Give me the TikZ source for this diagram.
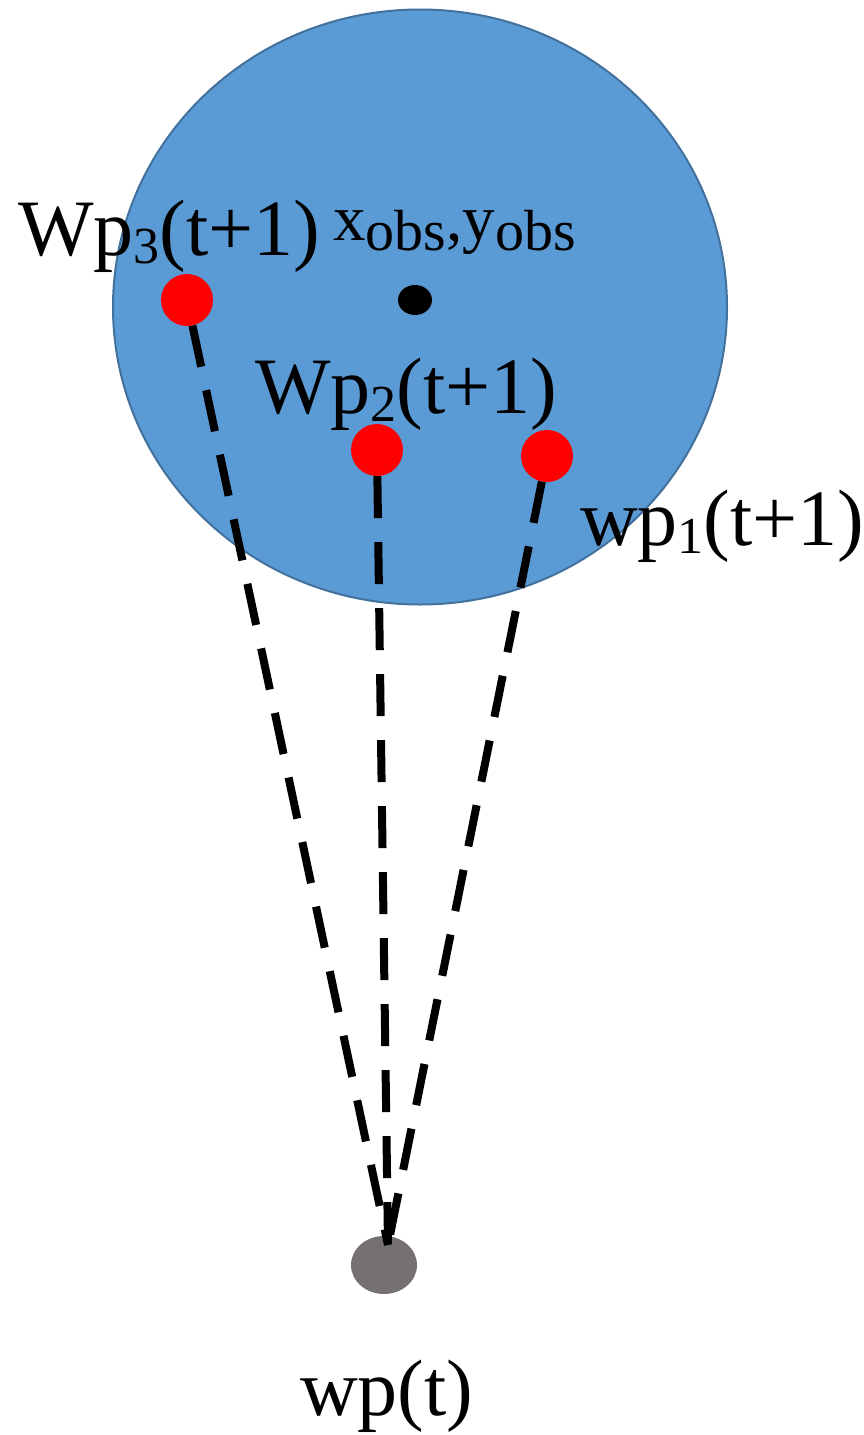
\documentclass[tikz,border=0pt]{standalone}
\usepackage{fontspec}
\setmainfont{Liberation Serif}
\usepackage{xcolor}
\usetikzlibrary{positioning,shapes.geometric}

\definecolor{obsblue}{HTML}{5B9BD5}
\definecolor{obsedge}{HTML}{41719C}
\definecolor{wpgray}{HTML}{767171}

\newcommand{\lsub}[1]{\raisebox{-8pt}{\fontsize{52}{52}\selectfont #1}}
\newcommand{\osub}[1]{\raisebox{-10pt}{\fontsize{58}{58}\selectfont #1}}

\begin{document}
\begin{tikzpicture}[x=1pt, y=-1pt,
  reddot/.style={circle, fill=red, minimum size=52pt, inner sep=0pt},
  lbl/.style={inner sep=0pt, anchor=base west, font=\rmfamily\fontsize{80}{90}\selectfont},
  dashline/.style={line width=8pt, dash pattern=on 42pt off 24pt}
]
\useasboundingbox (0,0) rectangle (864,1435);

% obstacle
\node[ellipse, draw=obsedge, line width=2pt, fill=obsblue,
      minimum width=614pt, minimum height=595pt, inner sep=0pt] (obs) at (420,307) {};
\node[ellipse, fill=black, minimum width=34pt, minimum height=30pt, inner sep=0pt] (ctr) at (415,300) {};

% candidate waypoints
\node[reddot] (w3) at (187,300) {};
\node[reddot] (w2) at (377,450) {};
\node[reddot] (w1) at (547,456) {};

% current waypoint
\node[ellipse, fill=wpgray, minimum width=66pt, minimum height=58pt, inner sep=0pt] (wpt) at (384,1265) {};
\coordinate (tip) at (388,1245);

\draw[dashline] (w3) -- (tip);
\draw[dashline] (w2) -- (tip);
\draw[dashline] (w1) -- (tip);

% labels
\node[lbl] (l3) at (18,255) {Wp\lsub{3}(t+1)};
\node[lbl, font=\rmfamily\fontsize{65}{70}\selectfont] (lobs) at (333,240) {x\osub{obs},y\osub{obs}};
\node[lbl] (l2) at (255,413) {Wp\lsub{2}(t+1)};
\node[lbl] (l1) at (580,545) {wp\lsub{1}(t+1)};
\node[lbl] (lt) at (300,1415) {wp(t)};
\end{tikzpicture}
\end{document}
